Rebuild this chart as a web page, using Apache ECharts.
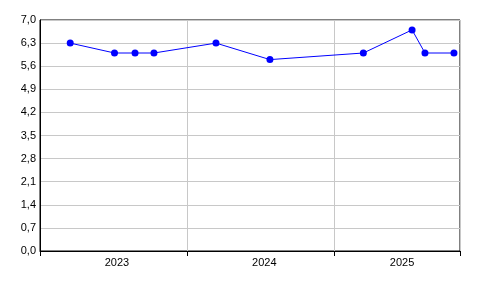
<!DOCTYPE html>
<html><head><meta charset="utf-8">
<script src="https://cdn.jsdelivr.net/npm/echarts@6/dist/echarts.min.js"></script>
<style>html,body{margin:0;padding:0;background:#fff}#c{width:496px;height:296px}</style>
</head><body><div id="c"></div>
<script>
const dates = ['2023-03-17','2023-07-05','2023-08-25','2023-10-11','2024-03-13','2024-07-25','2025-03-14','2025-07-13','2025-08-14','2025-10-25'];
const values = [6.3, 6.0, 6.0, 6.0, 6.3, 5.8, 6.0, 6.7, 6.0, 6.0];
const xMin = '2023-01-01', xMax = '2025-11-09';
const yearTicks = ['2023-01-01','2024-01-01','2025-01-01','2025-11-09'];
const yearLabelPos = ['2023-07-11','2024-07-11','2025-06-18'];
const yMin = 0, yMax = 7, yStep = 0.7;

const ts = s => { const [y,m,d] = s.split('-').map(Number); return Date.UTC(y, m-1, d); };
const chart = echarts.init(document.getElementById('c'));
chart.setOption({
  animation: false,
  grid: {left: 40, right: 36, top: 20, bottom: 45, show: true, borderColor: '#000', borderWidth: 1, backgroundColor: 'transparent'},
  xAxis: {
    type: 'value', min: ts(xMin), max: ts(xMax),
    axisLine: {lineStyle: {color: '#000', width: 1}},
    axisTick: {show: true, length: 5, lineStyle: {color: '#000'}, customValues: yearTicks.map(ts)},
    splitLine: {show: true, lineStyle: {color: '#c8c8c8', width: 1}},
    axisLabel: {customValues: yearLabelPos.map(ts), formatter: v => String(new Date(v).getUTCFullYear()), color: '#000', fontFamily: 'Liberation Sans', fontSize: 11, margin: 6}
  },
  yAxis: {
    type: 'value', min: yMin, max: yMax, interval: yStep,
    axisLine: {show: true, lineStyle: {color: '#000'}},
    axisTick: {show: false},
    splitLine: {lineStyle: {color: '#c8c8c8', width: 1}},
    axisLabel: {formatter: v => v.toFixed(1).replace('.', ','), color: '#000', fontFamily: 'Liberation Sans', fontSize: 11, margin: 4}
  },
  series: [{
    type: 'line', data: dates.map((d, i) => [ts(d), values[i]]),
    lineStyle: {color: '#0000ff', width: 1}, itemStyle: {color: '#0000ff'},
    symbol: 'circle', symbolSize: 7, showSymbol: true
  }]
});
</script></body></html>
